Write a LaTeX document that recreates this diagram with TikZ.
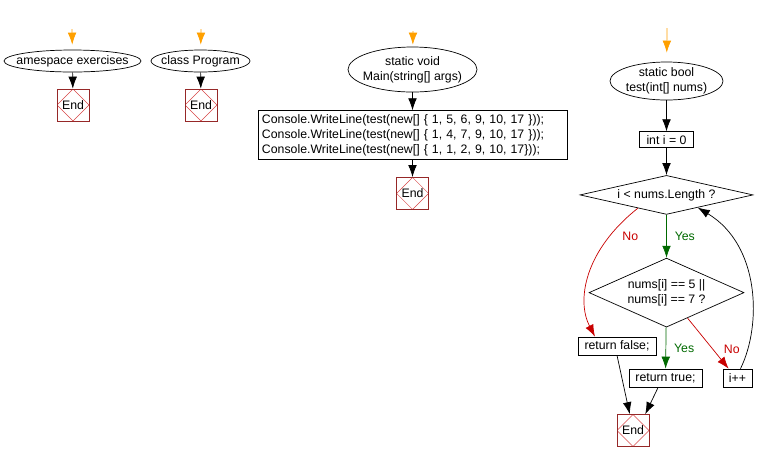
\documentclass[tikz,border=0pt]{standalone}
\usepackage{fontspec}
\setmainfont{Liberation Sans}
\usepackage{xcolor}
\definecolor{endred}{RGB}{150, 40, 40}
\definecolor{diamred}{RGB}{215, 70, 70}
\definecolor{startorange}{RGB}{255, 160, 0}
\definecolor{yesgreen}{RGB}{0, 105, 0}
\definecolor{nored}{RGB}{200, 0, 0}
\usepackage{tikz}
\usetikzlibrary{shapes.geometric, arrows.meta, positioning, calc}

\begin{document}
\begin{tikzpicture}[x=0.03cm, y=-0.03cm, line width=0.6pt, font=\fontsize{10.5pt}{12.8pt}\selectfont,
        startnode/.style={ellipse, draw, inner xsep=-0.6cm, inner ysep=0pt, align=center},
        procbox/.style={rectangle, draw, inner sep=0pt, minimum height=0.54cm},
        decision/.style={diamond, draw, inner sep=0pt, align=center},
        endbox/.style={rectangle, draw=endred, minimum size=0.96cm, inner sep=0pt,
            path picture={\draw[diamred, line width=0.4pt] (path picture bounding box.north) -- (path picture bounding box.east) -- (path picture bounding box.south) -- (path picture bounding box.west) -- cycle;}},
        line/.style={draw, -{Latex[length=3.6mm, width=2.6mm]}}]

        \useasboundingbox (0,0) rectangle (767,462);

        % namespace and class
        \node [startnode, minimum width=4.11cm, minimum height=0.66cm] (ns) at (72.5,61) {amespace exercises};
        \node [endbox] (nsend) at (73,105) {End};
        \node [startnode, minimum width=2.97cm, minimum height=0.66cm] (cls) at (200.5,61) {class Program};
        \node [endbox] (clsend) at (201,105) {End};

        % Main
        \node [startnode, minimum width=3.87cm, minimum height=1.35cm] (main) at (412.5,69.5) {static void\\Main(string[] args)};
        \node [procbox, below=0.54cm of main, text width=9.03cm, inner xsep=0.12cm, minimum height=1.47cm, align=left] (calls) {Console.WriteLine(test(new[] \{ 1, 5, 6, 9, 10, 17 \}));\\Console.WriteLine(test(new[] \{ 1, 4, 7, 9, 10, 17 \}));\\Console.WriteLine(test(new[] \{ 1, 1, 2, 9, 10, 17\}));};
        \node [endbox, below=0.51cm of calls] (mainend) {End};

        % test
        \node [startnode, minimum width=3.39cm, minimum height=1.14cm] (test) at (666.5,81) {static bool\\test(int[] nums)};
        \node [procbox, below=0.93cm of test, minimum width=1.62cm, minimum height=0.48cm] (init) {int i = 0};
        \node [decision, below=0.81cm of init, minimum width=5.19cm, minimum height=1.17cm, shape aspect=4.4] (cond) {i < nums.Length ?};
        \node [decision, below=1.29cm of cond, minimum width=4.65cm, minimum height=2.07cm, shape aspect=2.25] (check) {nums[i] == 5 ||\\nums[i] == 7 ?};
        \node [procbox, minimum width=2.34cm] (retfalse) at (617,346) {return false;};
        \node [procbox, minimum width=2.19cm] (rettrue) at (665.5,378) {return true;};
        \node [procbox, minimum width=0.87cm] (incr) at (737.5,378) {i++};
        \node [endbox] (testend) at (633,430.5) {End};

        \coordinate (nstop) at (72,29);
        \coordinate (clstop) at (201,29);
        \coordinate (maintop) at (413,31);
        \coordinate (testtop) at (667,28);

        \path [line, draw=startorange, shorten >=0.15cm] (nstop) -- (ns);
        \path [line, draw=startorange, shorten >=0.15cm] (clstop) -- (cls);
        \path [line, draw=startorange, shorten >=0.06cm] (maintop) -- (main);
        \path [line, draw=startorange, shorten >=0.27cm] (testtop) -- (test);

        \path [line] (ns) -- (nsend);
        \path [line] (cls) -- (clsend);
        \path [line] (main) -- (calls);
        \path [line] (calls) -- (mainend);
        \path [line] (test) -- (init);
        \path [line] (init) -- (cond);
        \path [line, draw=yesgreen] (cond) -- node [right=0.12cm, text=yesgreen] {Yes} (check);
        \path [line, draw=nored] ($(cond.west)!0.67!(cond.south)$) .. controls (585,250) and (576,300) .. node [pos=0.25, right=0.36cm, yshift=0.12cm, text=nored] {No} ($(retfalse.north west)!0.22!(retfalse.north east)$);
        \path [line, draw=yesgreen] (check) -- node [right=0.12cm, text=yesgreen] {Yes} (rettrue);
        \path [line, draw=nored] ($(check.south)!0.27!(check.east)$) -- node [right=0.35cm, yshift=-0.18cm, text=nored] {No} ($(incr.north west)!0.2!(incr.north east)$);
        \path [line] ($(incr.north west)!0.6!(incr.north east)$) .. controls (762,325) and (760,245) .. ($(cond.south)!0.36!(cond.east)$);
        \path [line] (retfalse.south) -- ($(testend.north west)!0.4!(testend.north east)$);
        \path [line] ($(rettrue.south west)!0.4!(rettrue.south east)$) -- ($(testend.north west)!0.875!(testend.north east)$);
    \end{tikzpicture}
\end{document}
